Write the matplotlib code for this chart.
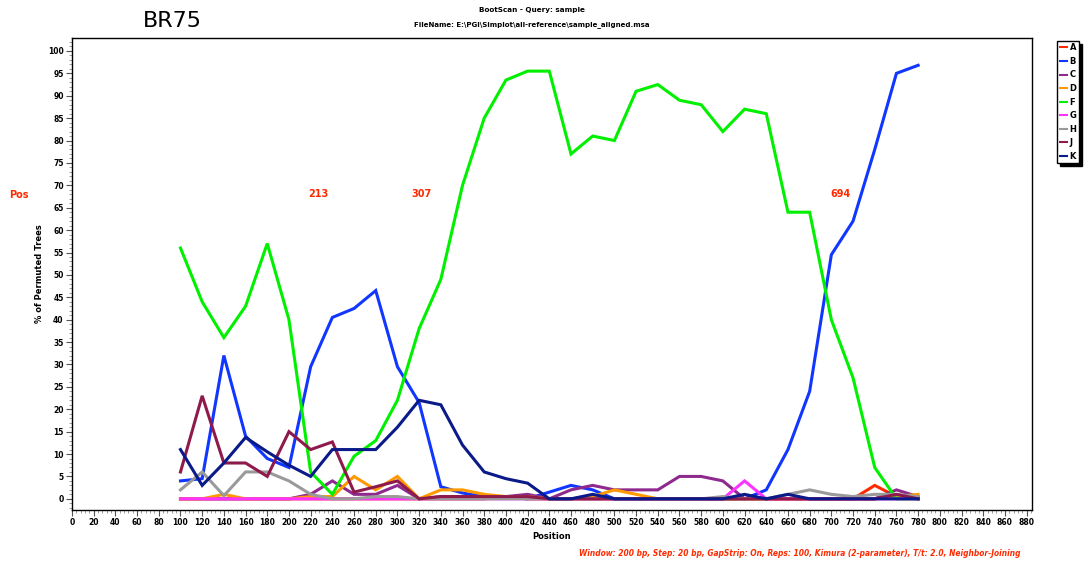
import matplotlib
matplotlib.use("Agg")
import matplotlib.pyplot as plt
from matplotlib.ticker import MultipleLocator

# Query positions (midpoints of the sliding window)
positions = [100, 120, 140, 160, 180, 200, 220, 240, 260, 280, 300, 320, 340, 360,
             380, 400, 420, 440, 460, 480, 500, 520, 540, 560, 580, 600, 620, 640,
             660, 680, 700, 720, 740, 760, 780]

# Bootstrap support (% of permuted trees) per reference subtype
series_A = [0, 0, 0, 0, 0, 0, 0, 0, 0, 0, 0, 0, 0, 0,
            0, 0.5, 0, 0, 0, 0, 0, 0, 0, 0, 0, 0, 0, 0,
            0, 0, 0, 0, 3, 0.5, 0]
series_B = [4, 4.5, 32, 14, 9, 7, 29.5, 40.5, 42.5, 46.5, 29.5, 21.5, 2.7, 1.3,
            0.5, 0.5, 0, 1.5, 3, 2, 0, 0, 0, 0, 0, 0, 0, 2,
            11, 24, 54.5, 62, 78, 95, 96.8]
series_C = [0, 0, 0, 0, 0, 0, 1, 4, 1, 1, 3, 0, 0.5, 0.5,
            0.5, 0.5, 1, 0, 2, 3, 2, 2, 2, 5, 5, 4, 0, 0,
            0, 0, 0, 0, 0, 2, 0.5]
series_D = [0, 0, 1, 0, 0, 0, 0.5, 0.5, 5, 2, 5, 0, 2, 2,
            1, 0.5, 0.5, 0, 0, 0.5, 2, 1, 0, 0, 0, 0, 0, 0,
            0, 0, 0, 0, 0, 0.5, 1]
series_F = [56, 44, 36, 43, 57, 40, 6, 1, 9.5, 13, 22, 38, 49, 70,
            85, 93.5, 95.5, 95.5, 77, 81, 80, 91, 92.5, 89, 88, 82, 87, 86,
            64, 64, 40, 27, 7, 0, 0]
series_G = [0, 0, 0, 0, 0, 0, 0, 0, 0, 0, 0, 0, 0, 0,
            0, 0, 0, 0, 0, 0, 0, 0, 0, 0, 0, 0, 4, 0,
            0, 0, 0, 0, 0, 0, 0]
series_H = [2, 6, 0.7, 6, 6, 4, 1, 0, 0, 0.5, 0.5, 0, 0, 0,
            0, 0, 0, 0, 0, 0, 0, 0, 0, 0, 0, 0.5, 0, 0,
            1, 2, 1, 0.5, 1, 1, 0.5]
series_J = [6, 23, 8, 8, 5, 15, 11, 12.7, 1.5, 2.7, 4, 0, 0.5, 0.5,
            0.5, 0.5, 0.5, 0, 0, 0, 0, 0, 0, 0, 0, 0, 0, 0,
            0, 0, 0, 0, 0, 1, 0]
series_K = [11, 3, 8, 13.7, 10.5, 7.5, 5, 11, 11, 11, 16, 22, 21, 12,
            6, 4.5, 3.5, 0, 0, 1, 0, 0, 0, 0, 0, 0, 1, 0,
            1, 0, 0, 0, 0, 0, 0]

labels = ["A", "B", "C", "D", "F", "G", "H", "J", "K"]
values = [series_A, series_B, series_C, series_D, series_F,
          series_G, series_H, series_J, series_K]
colors = ["#FF2A00", "#1036FF", "#8E2A8E", "#FF9900", "#00F000",
          "#FF33FF", "#9A9A9A", "#8E1A4C", "#0A1A88"]

# Breakpoint annotations
bp_labels = ["213", "307", "694"]
bp_pos = [227, 322, 708]

plt.rcParams["font.family"] = ["DejaVu Sans"]

fig = plt.figure(figsize=(10.86, 5.66), dpi=100)
ax = fig.add_axes([0.0663, 0.0989, 0.884, 0.834])

for lab, ys, col in zip(labels, values, colors):
    ax.plot(positions, ys, color=col, lw=2.2, label=lab, solid_joinstyle="miter")

ax.set_xlim(0, 885)
ax.set_ylim(-2.5, 102.9)
ax.xaxis.set_major_locator(MultipleLocator(20))
ax.xaxis.set_minor_locator(MultipleLocator(4))
ax.yaxis.set_major_locator(MultipleLocator(5))
ax.yaxis.set_minor_locator(MultipleLocator(1))
ax.tick_params(axis="both", which="major", length=4, width=0.8, direction="out",
               labelsize=5.5, pad=2, color="#555555")
ax.tick_params(axis="both", which="minor", length=2, width=0.5, direction="out",
               color="#777777")
for t in ax.get_xticklabels() + ax.get_yticklabels():
    t.set_fontweight("bold")
for s in ax.spines.values():
    s.set_linewidth(1.0)

ax.set_xlabel("Position", fontsize=6, fontweight="bold", labelpad=3)
ax.set_ylabel("% of Permuted Trees", fontsize=6, fontweight="bold", labelpad=3)

# Breakpoint labels
for txt, xp in zip(bp_labels, bp_pos):
    ax.text(xp, 68, txt, color="#FF2A00", fontsize=7, fontweight="bold",
            ha="center", va="center")
fig.text(0.017, 1 - 195 / 566, "Pos", color="#FF2A00", fontsize=7,
         fontweight="bold", ha="center", va="center")

# Header
fig.text(0.132, 1 - 21 / 566, "BR75", fontsize=16, ha="left", va="center")
fig.text(0.49, 1 - 10 / 566, "BootScan - Query: sample", fontsize=5.2,
         fontweight="bold", ha="center", va="center")
fig.text(0.49, 1 - 25 / 566, r"FileName: E:\PGI\Simplot\all-reference\sample_aligned.msa",
         fontsize=5.0, fontweight="bold", ha="center", va="center")

# Parameter footer
fig.text(0.736, 1 - 553 / 566,
         "Window: 200 bp, Step: 20 bp, GapStrip: On, Reps: 100, Kimura (2-parameter), "
         "T/t: 2.0, Neighbor-Joining",
         color="#FF2A00", fontsize=5.45, fontweight="bold", style="italic",
         ha="center", va="center")

leg = fig.legend(loc="upper left", bbox_to_anchor=(0.9735, 0.928),
                 fontsize=6, handlelength=0.9, handletextpad=0.3,
                 labelspacing=0.55, borderpad=0.3, borderaxespad=0,
                 frameon=True, fancybox=False,
                 shadow={"color": "black", "alpha": 1.0, "ox": 2, "oy": -2})
leg.get_frame().set_edgecolor("black")
leg.get_frame().set_linewidth(1.0)
for t in leg.get_texts():
    t.set_fontweight("bold")
for h in leg.get_lines():
    h.set_linewidth(1.5)

fig.savefig("out.png", dpi=100)
